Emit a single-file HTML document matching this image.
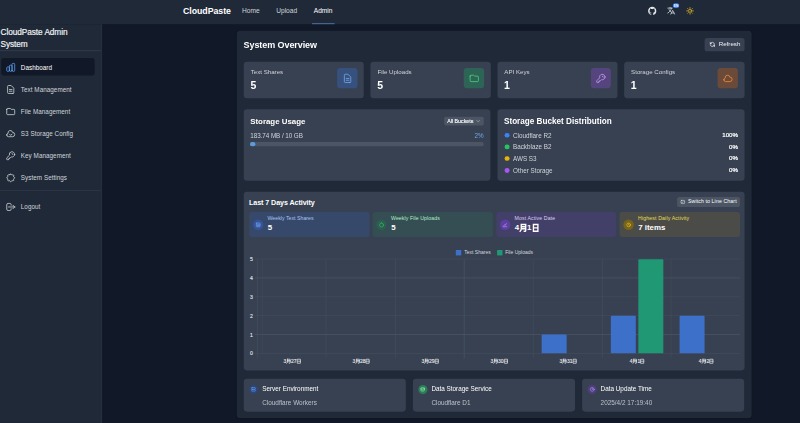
<!DOCTYPE html>
<html lang="en">
<head>
<meta charset="utf-8">
<title>CloudPaste Admin</title>
<style>
*{box-sizing:border-box;margin:0;padding:0}
html,body{width:800px;height:423px;overflow:hidden;background:#111827}
#root{left:0;top:0;width:1920px;height:1016px;transform:scale(0.4166667);transform-origin:0 0}
body{font-family:"Liberation Sans",sans-serif;color:#f3f4f6;position:relative;-webkit-font-smoothing:antialiased}
.abs,.abs-all *{position:absolute}
div,span,svg,a{position:absolute;white-space:nowrap}
svg{overflow:visible}
.ic{fill:none;stroke:currentColor;stroke-width:2;stroke-linecap:round;stroke-linejoin:round}
/* nav */
#nav{left:0;top:0;width:1920px;height:57.6px;background:#1f2937}
#nav .brand{left:439.2px;top:12.72px;font-size:21.12px;letter-spacing:-0.12px;line-height:26.4px;font-weight:700;color:#fff}
#nav .lnk{top:15.84px;font-size:15.84px;line-height:21.6px;color:#d1d5db}
#nav .act{color:#fff}
#nav .ul{left:748.8px;top:56.4px;width:54px;height:1.92px;background:#5485bd}
/* sidebar */
#side{left:0;top:57.6px;width:244.8px;height:957.6px;background:#1f2937;border-right:2.4px solid #283242}
#side .ttl{left:1.2px;top:5.52px;font-size:19.8px;line-height:29.04px;color:#f1f3f6;white-space:nowrap;width:240px;font-weight:400;-webkit-text-stroke:0.432px #f1f3f6;letter-spacing:-0.12px}
#side .hr{left:0;width:242.4px;height:2.4px;background:#2d3748}
#side .item{left:3.12px;width:223.92px;height:42px;border-radius:6.24px;color:#d1d5db;font-size:15.12px;line-height:42px;letter-spacing:0.12px}
#side .item.on{background:#111827;color:#fff}
#side .item.on span{top:1.92px}
#side .item svg{left:9.48px;top:9.36px;width:25.44px;height:25.44px;stroke-width:1.8}
#side .item span{left:46.8px;top:1.2px}
/* panel */
#panel{left:567.6px;top:74.4px;width:1236px;height:929.28px;background:#1f2937;border-radius:7.92px;box-shadow:0 0.96px 2.4px rgba(0,0,0,.3)}
.card{background:#374151;border-radius:7.92px}

#main{left:0;top:0;width:1920px;height:1015.2px}
.h1{left:584.64px;top:91.92px;font-size:21.6px;line-height:31.2px;font-weight:700;color:#fff;letter-spacing:-0.192px}
.btn{background:#374151;border-radius:6.24px;color:#e5e7eb}
.lbl{font-size:14.76px;line-height:21.6px;color:#d1d5db}
.val{font-size:25.2px;line-height:31.2px;font-weight:700;color:#fff}
.ibox{width:48.72px;height:48.72px;border-radius:7.92px;top:163.2px}
.ibox svg{left:11.76px;top:12px;width:26.4px;height:26.4px;stroke-width:1.6}
.h2{font-size:19.2px;line-height:26.4px;font-weight:700;color:#fff}
.row{font-size:15.12px;line-height:21.6px;color:#d1d5db}
.pct{font-size:14.76px;line-height:21.6px;color:#fff;text-align:right;width:72px;font-weight:400;-webkit-text-stroke:0.528px #fff}
.dot{width:11.76px;height:11.76px;margin:0.36px;border-radius:50%}

.h3{font-size:17.16px;line-height:24px;font-weight:700;color:#fff;letter-spacing:-0.192px}
.mc{top:509.28px;width:288.48px;height:59.52px;border-radius:7.2px}
.mc .ci{left:8.64px;top:17.52px;width:25.2px;height:25.2px;border-radius:50%}
.mc .ci svg{left:5.88px;top:5.88px;width:13.44px;height:13.44px}
.mc .ml{left:43.92px;top:7.2px;font-size:12.48px;line-height:19.2px}
.mc .mv{left:44.4px;top:25.2px;font-size:18.96px;line-height:26.4px;font-weight:700;color:#fff}
.gl{background:#475264}
.yl{left:598.8px;width:9.6px;font-size:12.24px;line-height:16.8px;color:#dde0e5;text-align:center;-webkit-text-stroke:0.384px #dde0e5}
.xl{top:859.2px;width:96px;height:16.8px;font-size:12px;line-height:16.8px;color:#e4e7eb;text-align:center;-webkit-text-stroke:0.288px #e4e7eb}
.xl svg{position:static;display:inline-block;width:11.04px;height:11.04px;vertical-align:-1.44px;fill:none;stroke:#dfe3e8;stroke-width:1.3}
.cjk{position:static;display:inline-block;fill:none;stroke-linecap:square}
.bar{border-radius:2.4px 2.4px 0 0}
.lg{top:595.92px;font-size:12px;line-height:19.2px;color:#d4d8de}
.ic2{left:598.08px;top:924.72px;width:19.68px;height:19.68px;border-radius:50%}
.info .t{left:44.4px;top:13.92px;font-size:15.24px;line-height:21.6px;color:#fff}
.info .s{left:44.4px;top:45.36px;font-size:15.36px;line-height:21.6px;color:#bcc2cc}
.info .c{left:12.96px;top:14.16px;width:22.08px;height:22.08px;border-radius:50%}
.info .c svg{left:4.56px;top:4.56px;width:12.96px;height:12.96px}
</style>
</head>
<body>
<div id="root">
<!-- NAV -->
<div id="nav">
  <div class="brand">CloudPaste</div>
  <div class="lnk" style="left:580.8px">Home</div>
  <div class="lnk" style="left:662.88px">Upload</div>
  <div class="lnk act" style="left:753.12px">Admin</div>
  <div class="ul"></div>
  <!-- github -->
  <svg style="left:1555.2px;top:16.08px;width:20.64px;height:20.64px;color:#e5e7eb" viewBox="0 0 24 24"><path fill="currentColor" d="M12 .5C5.65.5.5 5.65.5 12c0 5.08 3.29 9.39 7.86 10.91.58.1.79-.25.79-.56v-2c-3.2.7-3.88-1.36-3.88-1.36-.52-1.33-1.28-1.68-1.28-1.68-1.04-.71.08-.7.08-.7 1.15.08 1.76 1.19 1.76 1.19 1.03 1.76 2.69 1.25 3.35.96.1-.74.4-1.25.73-1.54-2.55-.29-5.24-1.28-5.24-5.68 0-1.26.45-2.28 1.18-3.09-.12-.29-.51-1.46.11-3.05 0 0 .97-.31 3.16 1.18a10.9 10.9 0 0 1 5.76 0c2.2-1.49 3.16-1.18 3.16-1.18.63 1.59.23 2.76.12 3.05.74.81 1.18 1.83 1.18 3.09 0 4.42-2.69 5.39-5.25 5.67.41.36.78 1.06.78 2.13v3.16c0 .31.21.67.8.56A11.51 11.51 0 0 0 23.5 12C23.500 5.650 18.350.5 12 .5z"/></svg>
  <!-- translate -->
  <svg class="ic" style="left:1600.08px;top:14.64px;width:21.6px;height:21.6px;color:#dbe1ea" viewBox="0 0 24 24"><path d="M3 5h12M9 3v2m1.048 9.5A18.022 18.022 0 016.412 9m6.088 9h7M11 21l5-10 5 10M12.751 5C11.783 10.770 8.070 15.610 3 18.129"/></svg>
  <div style="left:1614.96px;top:7.92px;width:14.88px;height:11.04px;border-radius:5.52px;background:#3b82f6"><div style="left:0;top:0;width:14.88px;text-align:center;font-size:7.44px;line-height:11.28px;font-weight:700;color:#fff">EN</div></div>
  <!-- sun -->
  <svg style="left:1646.16px;top:15.6px;width:20.16px;height:20.16px;color:#e3b524" viewBox="0 0 24 24" fill="none" stroke="currentColor" stroke-width="2.2" stroke-linecap="round"><circle cx="12" cy="12" r="4.2"/><path d="M12 2.5v2.5M12 19v2.5M2.5 12H5M19 12h2.500M5.3 5.3l1.8 1.8M16.900 16.900l1.800 1.800M5.300 18.700l1.800-1.800M16.900 7.100l1.800-1.800"/></svg>
</div>

<!-- SIDEBAR -->
<div id="side">
  <div class="ttl">CloudPaste Admin<br>System</div>
  <div class="hr" style="top:62.88px"></div>
  <div class="item on" style="top:81.6px"><svg class="ic" viewBox="0 0 24 24" style="color:#5b9cf0"><path d="M9 19v-6a2 2 0 00-2-2H5a2 2 0 00-2 2v6a2 2 0 002 2h2a2 2 0 002-2zm0 0V9a2 2 0 012-2h2a2 2 0 012 2v10m-6 0a2 2 0 002 2h2a2 2 0 002-2m0 0V5a2 2 0 012-2h2a2 2 0 012 2v14a2 2 0 01-2 2h-2a2 2 0 01-2-2z"/></svg><span>Dashboard</span></div>
  <div class="item" style="top:135.12px"><svg class="ic" viewBox="0 0 24 24"><path d="M9 12h6m-6 4h6m2 5H7a2 2 0 01-2-2V5a2 2 0 012-2h5.586a1 1 0 01.707.293l5.414 5.414a1 1 0 01.293.707V19a2 2 0 01-2 2z"/></svg><span>Text Management</span></div>
  <div class="item" style="top:188.16px"><svg class="ic" viewBox="0 0 24 24"><path d="M3 7v10a2 2 0 002 2h14a2 2 0 002-2V9a2 2 0 00-2-2h-6l-2-2H5a2 2 0 00-2 2z"/></svg><span>File Management</span></div>
  <div class="item" style="top:241.44px"><svg class="ic" viewBox="0 0 24 24"><path d="M3 15a4 4 0 004 4h9a5 5 0 10-.1-9.999 5.002 5.002 0 10-9.780 2.096A4.001 4.001 0 003 15z"/><path d="M9 13l3 3 3-3"/></svg><span>S3 Storage Config</span></div>
  <div class="item" style="top:294.24px"><svg class="ic" viewBox="0 0 24 24"><path d="M15 7a2 2 0 012 2m4 0a6 6 0 01-7.743 5.743L11 17H9v2H7v2H4a1 1 0 01-1-1v-2.586a1 1 0 01.293-.707l5.964-5.964A6 6 0 1121 9z"/></svg><span>Key Management</span></div>
  <div class="item" style="top:347.04px"><svg class="ic" viewBox="0 0 24 24"><path d="M10.325 4.317c.426-1.756 2.924-1.756 3.35 0a1.724 1.724 0 002.573 1.066c1.543-.94 3.31.826 2.37 2.37a1.724 1.724 0 001.065 2.572c1.756.426 1.756 2.924 0 3.35a1.724 1.724 0 00-1.066 2.573c.94 1.543-.826 3.31-2.37 2.37a1.724 1.724 0 00-2.572 1.065c-.426 1.756-2.924 1.756-3.35 0a1.724 1.724 0 00-2.573-1.066c-1.543.94-3.31-.826-2.37-2.37a1.724 1.724 0 00-1.065-2.572c-1.756-.426-1.756-2.924 0-3.35a1.724 1.724 0 001.066-2.573c-.94-1.543.826-3.31 2.37-2.37.996.608 2.296.07 2.572-1.065z"/></svg><span>System Settings</span></div>
  <div class="hr" style="top:398.4px"></div>
  <div class="item" style="top:416.64px"><svg class="ic" viewBox="0 0 24 24"><path d="M17 16l4-4m0 0l-4-4m4 4H7m6 4v1a3 3 0 01-3 3H6a3 3 0 01-3-3V7a3 3 0 013-3h4a3 3 0 013 3v1"/></svg><span>Logout</span></div>
</div>

<!-- PANEL -->
<div id="panel"></div>
<div id="main">

<div class="h1">System Overview</div>
<div class="btn" style="left:1690.8px;top:90.72px;width:96px;height:32.16px">
  <svg class="ic" viewBox="0 0 24 24" style="left:11.04px;top:8.4px;width:15.36px;height:15.36px;stroke-width:2.6"><path d="M4 4v5h.582m15.356 2A8.001 8.001 0 004.582 9m0 0H9m11 11v-5h-.581m0 0a8.003 8.003 0 01-15.357-2m15.357 2H15"/></svg>
  <div style="left:34.08px;top:5.28px;font-size:14.88px;line-height:21.6px;color:#f3f4f6">Refresh</div>
</div>

<!-- stat cards -->
<div class="card" style="left:584.88px;top:147.6px;width:288.48px;height:88.08px">
  <div class="lbl" style="left:16.8px;top:15.84px">Text Shares</div>
  <div class="val" style="left:16.08px;top:41.52px">5</div>
</div>
<div class="ibox" style="left:808.8px;background:#37517f"><svg class="ic" viewBox="0 0 24 24" style="color:#7db0f3"><path d="M9 12h6m-6 4h6m2 5H7a2 2 0 01-2-2V5a2 2 0 012-2h5.586a1 1 0 01.707.293l5.414 5.414a1 1 0 01.293.707V19a2 2 0 01-2 2z"/></svg></div>

<div class="card" style="left:889.2px;top:147.6px;width:288.48px;height:88.08px">
  <div class="lbl" style="left:16.8px;top:15.84px">File Uploads</div>
  <div class="val" style="left:16.08px;top:41.52px">5</div>
</div>
<div class="ibox" style="left:1113.36px;background:#2e6455"><svg class="ic" viewBox="0 0 24 24" style="color:#4ade80"><path d="M3 7v10a2 2 0 002 2h14a2 2 0 002-2V9a2 2 0 00-2-2h-6l-2-2H5a2 2 0 00-2 2z"/></svg></div>

<div class="card" style="left:1193.52px;top:147.6px;width:288.48px;height:88.08px">
  <div class="lbl" style="left:16.8px;top:15.84px">API Keys</div>
  <div class="val" style="left:16.08px;top:41.52px">1</div>
</div>
<div class="ibox" style="left:1417.68px;background:#56447f"><svg class="ic" viewBox="0 0 24 24" style="color:#cda9f8"><path d="M15 7a2 2 0 012 2m4 0a6 6 0 01-7.743 5.743L11 17H9v2H7v2H4a1 1 0 01-1-1v-2.586a1 1 0 01.293-.707l5.964-5.964A6 6 0 1121 9z"/></svg></div>

<div class="card" style="left:1497.84px;top:147.6px;width:288.96px;height:88.08px">
  <div class="lbl" style="left:16.8px;top:15.84px">Storage Configs</div>
  <div class="val" style="left:16.08px;top:41.52px">1</div>
</div>
<div class="ibox" style="left:1722px;background:#6b4a3a"><svg class="ic" viewBox="0 0 24 24" style="color:#fb923c"><path d="M3 15a4 4 0 004 4h9a5 5 0 10-.1-9.999 5.002 5.002 0 10-9.780 2.096A4.001 4.001 0 003 15z"/></svg></div>


<!-- storage usage -->
<div class="card" style="left:584.88px;top:262.2px;width:592.56px;height:171.96px">
  <div class="h2" style="left:15.6px;top:15.84px;font-size:18.96px">Storage Usage</div>
  <div style="left:480.72px;top:18px;width:95.04px;height:21.12px;border-radius:4.08px;background:#4b5563">
    <div style="left:7.68px;top:0;font-size:12.72px;line-height:21.12px;color:#fff;-webkit-text-stroke:0.288px #fff">All Buckets</div>
    <svg class="ic" viewBox="0 0 24 24" style="left:76.8px;top:5.04px;width:11.04px;height:11.04px;color:#d1d5db;stroke-width:2.500"><path d="M5 9l7 7 7-7"/></svg>
  </div>
  <div class="row" style="left:15.84px;top:51.84px;letter-spacing:-0.144px">183.74 MB / 10 GB</div>
  <div class="row" style="left:503.76px;top:51.84px;width:72px;text-align:right;color:#6ea8ea">2%</div>
  <div style="left:15.12px;top:79.2px;width:560.64px;height:9.36px;border-radius:5.04px;background:#4b5563"></div>
  <div style="left:15.12px;top:79.2px;width:12.96px;height:9.36px;border-radius:5.04px;background:#5b9bdd"></div>
</div>
<!-- bucket distribution -->
<div class="card" style="left:1193.52px;top:262.2px;width:593.28px;height:171.96px">
  <div class="h2" style="left:16.08px;top:15.84px;font-size:19.56px">Storage Bucket Distribution</div>
  <div class="dot" style="left:17.04px;top:56.04px;background:#3b82f6"></div><div class="row" style="left:37.68px;top:51.48px">Cloudflare R2</div><div class="pct" style="left:505.68px;top:51.48px">100%</div>
  <div class="dot" style="left:17.04px;top:84.12px;background:#22c55e"></div><div class="row" style="left:37.68px;top:79.56px">Backblaze B2</div><div class="pct" style="left:505.68px;top:79.56px">0%</div>
  <div class="dot" style="left:17.04px;top:112.2px;background:#eab308"></div><div class="row" style="left:37.68px;top:107.64px">AWS S3</div><div class="pct" style="left:505.68px;top:107.64px">0%</div>
  <div class="dot" style="left:17.04px;top:140.28px;background:#a855f7"></div><div class="row" style="left:37.68px;top:135.72px">Other Storage</div><div class="pct" style="left:505.68px;top:135.72px">0%</div>
</div>
<!-- activity -->
<div class="card" style="left:584.88px;top:459.84px;width:1201.92px;height:429.6px"></div>
<div class="h3" style="left:597.6px;top:475.2px">Last 7 Days Activity</div>
<div style="left:1624.8px;top:472.8px;width:151.2px;height:24px;border-radius:5.28px;background:#4b5563"><svg class="ic" viewBox="0 0 24 24" style="left:8.16px;top:6.24px;width:11.52px;height:11.52px;color:#e5e7eb;stroke-width:2.6"><rect x="3" y="4" width="18" height="16" rx="3"/><path d="M7 15l3-3 3 2 4-4"/></svg><div style="left:26.4px;top:2.4px;font-size:12.48px;line-height:19.2px;color:#fff;letter-spacing:0.264px">Switch to Line Chart</div></div>
<div class="mc" style="left:598.08px;background:#37496b"><div class="ci" style="background:#34539a"><svg class="ic" viewBox="0 0 24 24" style="color:#7fb2f5;stroke-width:2.4"><rect x="4" y="4" width="16" height="16" rx="2"/><path d="M8 16v-4m4 4V9m4 7v-6"/></svg></div><div class="ml" style="color:#a9c4ee;letter-spacing:0.048px">Weekly Text Shares</div><div class="mv">5</div></div>
<div class="mc" style="left:894.48px;background:#344e54"><div class="ci" style="background:#2d5e50"><svg class="ic" viewBox="0 0 24 24" style="color:#2fc46c;stroke-width:2.4"><circle cx="12" cy="12.5" r="8.5"/><path d="M12 4V2"/></svg></div><div class="ml" style="color:#b5ecc8;letter-spacing:0.216px">Weekly File Uploads</div><div class="mv">5</div></div>
<div class="mc" style="left:1190.88px;background:#423f68"><div class="ci" style="background:#5b40a2"><svg class="ic" viewBox="0 0 24 24" style="color:#c9a4f7;stroke-width:2.4"><path d="M4 20h16M7 16l4-5 3 3 4-8"/></svg></div><div class="ml" style="color:#dccdf7;letter-spacing:0.264px">Most Active Date</div><div class="mv">4<svg class="cjk" viewBox="0 0 10 10" style="width:19.2px;height:19.2px;stroke-width:1.7;vertical-align:-2.4px;stroke:#fff"><path d="M2.6 1H8.2V8.6Q8.2 9.4 7.2 9.4H6.4M2.6 1V5.8Q2.6 8.2 1.2 9.5M2.6 3.7H8.2M2.6 6.300H8.2"/></svg>1<svg class="cjk" viewBox="0 0 10 10" style="width:19.2px;height:19.2px;stroke-width:1.7;vertical-align:-2.4px;stroke:#fff"><path d="M2.2 1H7.8V9.400H2.2ZM2.2 5.100H7.8"/></svg></div></div>
<div class="mc" style="left:1487.28px;background:#4b4c48"><div class="ci" style="background:#76631c"><svg class="ic" viewBox="0 0 24 24" style="color:#f0cd2a;stroke-width:2.4"><circle cx="12" cy="12" r="8"/><path d="M12 8v4l2 2"/></svg></div><div class="ml" style="color:#e9dc58;letter-spacing:0.336px">Highest Daily Activity</div><div class="mv">7 items</div></div>
<div style="left:1094.4px;top:599.76px;width:12.96px;height:13.2px;background:#3c70c9"></div><div class="lg" style="left:1114.32px">Text Shares</div>
<div style="left:1192.8px;top:599.76px;width:12.96px;height:13.2px;background:#1f9873"></div><div class="lg" style="left:1212.48px">File Uploads</div>
<div class="gl" style="left:611.52px;top:847.8px;width:1164.96px;height:1.2px"></div>
<div class="yl" style="top:840.96px">0</div>
<div class="gl" style="left:611.52px;top:802.44px;width:1164.96px;height:1.2px"></div>
<div class="yl" style="top:795.6px">1</div>
<div class="gl" style="left:611.52px;top:757.08px;width:1164.96px;height:1.2px"></div>
<div class="yl" style="top:750.24px">2</div>
<div class="gl" style="left:611.52px;top:711.72px;width:1164.96px;height:1.2px"></div>
<div class="yl" style="top:704.88px">3</div>
<div class="gl" style="left:611.52px;top:666.36px;width:1164.96px;height:1.2px"></div>
<div class="yl" style="top:659.52px">4</div>
<div class="gl" style="left:611.52px;top:621px;width:1164.96px;height:1.2px"></div>
<div class="yl" style="top:614.16px">5</div>
<div class="gl" style="left:616.68px;top:621.6px;width:1.2px;height:238.8px"></div>
<div class="gl" style="left:782.28px;top:621.6px;width:1.2px;height:238.8px"></div>
<div class="gl" style="left:947.88px;top:621.6px;width:1.2px;height:238.8px"></div>
<div class="gl" style="left:1113.48px;top:621.6px;width:1.2px;height:238.8px"></div>
<div class="gl" style="left:1279.08px;top:621.6px;width:1.2px;height:238.8px"></div>
<div class="gl" style="left:1444.68px;top:621.6px;width:1.2px;height:238.8px"></div>
<div class="gl" style="left:1610.28px;top:621.6px;width:1.2px;height:238.8px"></div>
<div class="gl" style="left:629.04px;top:621.6px;width:1.2px;height:226.8px;opacity:.6"></div>
<div class="xl" style="left:653.76px">3<svg class="cjk" viewBox="0 0 10 10" style="width:11.52px;height:11.52px;stroke-width:1.5;vertical-align:-1.32px;stroke:#e4e7eb"><path d="M2.6 1H8.2V8.6Q8.2 9.4 7.2 9.4H6.4M2.6 1V5.8Q2.6 8.2 1.2 9.5M2.6 3.7H8.2M2.6 6.300H8.2"/></svg>27<svg class="cjk" viewBox="0 0 10 10" style="width:11.52px;height:11.52px;stroke-width:1.5;vertical-align:-1.32px;stroke:#e4e7eb"><path d="M2.2 1H7.8V9.400H2.2ZM2.2 5.100H7.8"/></svg></div>
<div class="xl" style="left:819.36px">3<svg class="cjk" viewBox="0 0 10 10" style="width:11.52px;height:11.52px;stroke-width:1.5;vertical-align:-1.32px;stroke:#e4e7eb"><path d="M2.6 1H8.2V8.6Q8.2 9.4 7.2 9.4H6.4M2.6 1V5.8Q2.6 8.2 1.2 9.5M2.6 3.7H8.2M2.6 6.300H8.2"/></svg>28<svg class="cjk" viewBox="0 0 10 10" style="width:11.52px;height:11.52px;stroke-width:1.5;vertical-align:-1.32px;stroke:#e4e7eb"><path d="M2.2 1H7.8V9.400H2.2ZM2.2 5.100H7.8"/></svg></div>
<div class="xl" style="left:984.96px">3<svg class="cjk" viewBox="0 0 10 10" style="width:11.52px;height:11.52px;stroke-width:1.5;vertical-align:-1.32px;stroke:#e4e7eb"><path d="M2.6 1H8.2V8.6Q8.2 9.4 7.2 9.4H6.4M2.6 1V5.8Q2.6 8.2 1.2 9.5M2.6 3.7H8.2M2.6 6.300H8.2"/></svg>29<svg class="cjk" viewBox="0 0 10 10" style="width:11.52px;height:11.52px;stroke-width:1.5;vertical-align:-1.32px;stroke:#e4e7eb"><path d="M2.2 1H7.8V9.400H2.2ZM2.2 5.100H7.8"/></svg></div>
<div class="xl" style="left:1150.56px">3<svg class="cjk" viewBox="0 0 10 10" style="width:11.52px;height:11.52px;stroke-width:1.5;vertical-align:-1.32px;stroke:#e4e7eb"><path d="M2.6 1H8.2V8.6Q8.2 9.4 7.2 9.4H6.4M2.6 1V5.8Q2.6 8.2 1.2 9.5M2.6 3.7H8.2M2.6 6.300H8.2"/></svg>30<svg class="cjk" viewBox="0 0 10 10" style="width:11.52px;height:11.52px;stroke-width:1.5;vertical-align:-1.32px;stroke:#e4e7eb"><path d="M2.2 1H7.8V9.400H2.2ZM2.2 5.100H7.8"/></svg></div>
<div class="xl" style="left:1316.16px">3<svg class="cjk" viewBox="0 0 10 10" style="width:11.52px;height:11.52px;stroke-width:1.5;vertical-align:-1.32px;stroke:#e4e7eb"><path d="M2.6 1H8.2V8.6Q8.2 9.4 7.2 9.4H6.4M2.6 1V5.8Q2.6 8.2 1.2 9.5M2.6 3.7H8.2M2.6 6.300H8.2"/></svg>31<svg class="cjk" viewBox="0 0 10 10" style="width:11.52px;height:11.52px;stroke-width:1.5;vertical-align:-1.32px;stroke:#e4e7eb"><path d="M2.2 1H7.8V9.400H2.2ZM2.2 5.100H7.8"/></svg></div>
<div class="xl" style="left:1481.76px">4<svg class="cjk" viewBox="0 0 10 10" style="width:11.52px;height:11.52px;stroke-width:1.5;vertical-align:-1.32px;stroke:#e4e7eb"><path d="M2.6 1H8.2V8.6Q8.2 9.4 7.2 9.4H6.4M2.6 1V5.8Q2.6 8.2 1.2 9.5M2.6 3.7H8.2M2.6 6.300H8.2"/></svg>1<svg class="cjk" viewBox="0 0 10 10" style="width:11.52px;height:11.52px;stroke-width:1.5;vertical-align:-1.32px;stroke:#e4e7eb"><path d="M2.2 1H7.8V9.400H2.2ZM2.2 5.100H7.8"/></svg></div>
<div class="xl" style="left:1647.36px">4<svg class="cjk" viewBox="0 0 10 10" style="width:11.52px;height:11.52px;stroke-width:1.5;vertical-align:-1.32px;stroke:#e4e7eb"><path d="M2.6 1H8.2V8.6Q8.2 9.4 7.2 9.4H6.4M2.6 1V5.8Q2.6 8.2 1.2 9.5M2.6 3.7H8.2M2.6 6.300H8.2"/></svg>2<svg class="cjk" viewBox="0 0 10 10" style="width:11.52px;height:11.52px;stroke-width:1.5;vertical-align:-1.32px;stroke:#e4e7eb"><path d="M2.2 1H7.8V9.400H2.2ZM2.2 5.100H7.8"/></svg></div>
<div class="bar" style="left:1300.08px;top:803.04px;width:60px;height:45.36px;background:#3c70c9"></div>
<div class="bar" style="left:1465.68px;top:757.68px;width:60px;height:90.72px;background:#3c70c9"></div>
<div class="bar" style="left:1531.68px;top:621.6px;width:60.72px;height:226.8px;background:#1f9873"></div>
<div class="bar" style="left:1631.28px;top:757.68px;width:60px;height:90.72px;background:#3c70c9"></div>
<div class="card info" style="left:584.88px;top:909.36px;width:389.28px;height:78.48px"><div class="c" style="background:#2f4576"><svg class="ic" viewBox="0 0 24 24" style="color:#5aa0f5;stroke-width:2.600"><rect x="4" y="4" width="16" height="7" rx="1.5"/><rect x="4" y="13" width="16" height="7" rx="1.5"/></svg></div><div class="t">Server Environment</div><div class="s">Cloudflare Workers</div></div>
<div class="card info" style="left:990.96px;top:909.36px;width:389.28px;height:78.48px"><div class="c" style="background:#2b7d55"><svg class="ic" viewBox="0 0 24 24" style="color:#8be8b0;stroke-width:2.600"><ellipse cx="12" cy="7" rx="8" ry="3"/><path d="M4 7v10c0 1.700 3.600 3 8 3s8-1.300 8-3V7M4 12c0 1.700 3.600 3 8 3s8-1.300 8-3"/></svg></div><div class="t">Data Storage Service</div><div class="s">Cloudflare D1</div></div>
<div class="card info" style="left:1397.04px;top:909.36px;width:389.28px;height:78.48px"><div class="c" style="background:#4b3f7c"><svg class="ic" viewBox="0 0 24 24" style="color:#b890f2;stroke-width:2.600"><circle cx="12" cy="12" r="8.5"/><path d="M12 7.500v4.500l3 2"/></svg></div><div class="t">Data Update Time</div><div class="s">2025/4/2 17:19:40</div></div>
</div>
</div>
</body>
</html>
